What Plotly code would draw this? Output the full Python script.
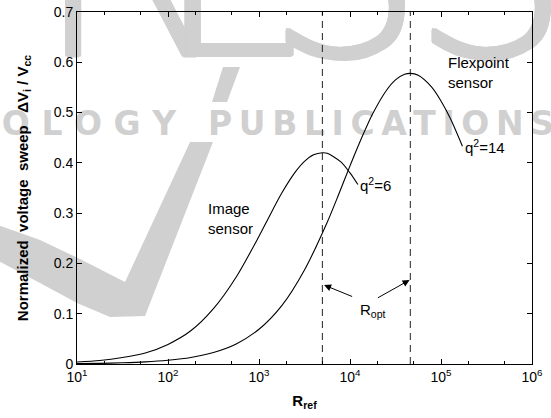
import plotly.graph_objects as go

# ---------------- data ----------------
r_image = [10, 17.8, 31.6, 56.2, 100, 178, 316, 562, 1000, 1260, 1780, 2510,
           3160, 3980, 4970, 5620, 7940, 10000, 12200]
v_image = [0.004, 0.007, 0.013, 0.022, 0.039, 0.066, 0.110, 0.173, 0.254, 0.289,
           0.340, 0.382, 0.403, 0.416, 0.420, 0.419, 0.402, 0.380, 0.357]

r_flex = [10, 17.8, 31.6, 56.2, 100, 178, 316, 562, 1000, 1780, 3160, 5620, 7500,
          10000, 12600, 17800, 25100, 31600, 39800, 46000, 56200, 79400, 100000,
          126000, 172000]
v_flex = [0.001, 0.0013, 0.0024, 0.0042, 0.0075, 0.013, 0.023, 0.040, 0.069,
          0.116, 0.187, 0.282, 0.337, 0.394, 0.438, 0.498, 0.544, 0.565, 0.576,
          0.578, 0.574, 0.550, 0.523, 0.489, 0.433]

r_opt = [4970, 46000]

x_tickvals = [1e1, 1e2, 1e3, 1e4, 1e5, 1e6]
x_ticktext = ["10<sup>1</sup>", "10<sup>2</sup>", "10<sup>3</sup>",
              "10<sup>4</sup>", "10<sup>5</sup>", "10<sup>6</sup>"]
y_tickvals = [0, 0.1, 0.2, 0.3, 0.4, 0.5, 0.6, 0.7]
y_ticktext = ["0", "0.1", "0.2", "0.3", "0.4", "0.5", "0.6", "0.7"]

# ---------------- layout geometry ----------------
W, H = 551, 418
L, R, T, B = 77, 532, 12, 364
FONT = "Liberation Sans, Arial, sans-serif"
WM = "#d0d0d0"


def px(x):
    return (x - L) / (R - L)


def py(y):
    return (B - y) / (B - T)


fig = go.Figure()

for xv in r_opt:
    fig.add_trace(go.Scatter(x=[xv, xv], y=[0, 0.7], mode="lines",
                             line=dict(color="#222222", width=1, dash="7px,5px"),
                             showlegend=False, hoverinfo="skip"))

fig.add_trace(go.Scatter(x=r_image, y=v_image, mode="lines",
                         line=dict(color="black", width=1.1, shape="spline", smoothing=0.8),
                         showlegend=False))
fig.add_trace(go.Scatter(x=r_flex, y=v_flex, mode="lines",
                         line=dict(color="black", width=1.1, shape="spline", smoothing=0.8),
                         showlegend=False))

# ---------------- watermark (below everything) ----------------
shapes = []


def poly(points):
    d = "M " + " L ".join(f"{px(a):.4f},{py(b):.4f}" for a, b in points) + " Z"
    return dict(type="path", path=d, xref="paper", yref="paper",
                fillcolor=WM, line=dict(width=0), layer="below")


shapes.append(poly([(-5, 224), (40, 240), (80, 259), (125, 282), (190, 142),
                    (213, 142), (145, 316), (110, 317), (77, 303), (40, 283), (-5, 259)]))
shapes.append(poly([(212, 102), (227, 102), (240, 67), (223, 67)]))

THICK = ", ".join(f"{dx}px {dy}px 0 {WM}" for dx, dy in
                  [(2, 0), (-2, 0), (0, 2), (0, -2), (1.5, 1.5), (-1.5, 1.5),
                   (1.5, -1.5), (-1.5, -1.5)])


def label_box(cx, cy, text, size, weight, shadow="none", w=600, h=400):
    return dict(type="rect", xref="paper", yref="paper",
                x0=px(cx - w / 2), x1=px(cx + w / 2),
                y0=py(cy + h / 2), y1=py(cy - h / 2),
                line=dict(width=0), fillcolor="rgba(0,0,0,0)", layer="below",
                label=dict(text=text, textposition="middle center",
                           font=dict(size=size, family="DejaVu Sans", weight=weight,
                                     color=WM, shadow=shadow)))


for ch, cx in zip("PRESS", [18, 123, 235, 344, 490]):
    shapes.append(label_box(cx, -50, ch, 250, 200, shadow=THICK))

shapes.append(label_box(89, 121, "\u2005\u200a".join("OLOGY"), 33, "bold"))
shapes.append(label_box(381, 121, "\u2009".join("PUBLICATIONS"), 33, "bold"))

fig.update_layout(shapes=shapes)

# ---------------- annotations ----------------
ann = [
    dict(x=2.42, y=0.29, text="Image<br>sensor", xanchor="left", yanchor="middle", align="left"),
    dict(x=5.055, y=0.58, text="Flexpoint<br>sensor", xanchor="left", yanchor="middle", align="left"),
    dict(x=4.09, y=0.356, text="q<sup>2</sup>=6", xanchor="left", yanchor="middle"),
    dict(x=5.24, y=0.432, text="q<sup>2</sup>=14", xanchor="left", yanchor="middle"),
    dict(x=4.255, y=0.107, text="R<sub>opt</sub>", xanchor="center", yanchor="middle"),
]
for a in ann:
    fig.add_annotation(showarrow=False, font=dict(family=FONT, size=15, color="black"), **a)

# arrows to the R_opt lines
fig.add_annotation(x=3.715, y=0.157, ax=4.04, ay=0.133, xref="x", yref="y",
                   axref="x", ayref="y", text="", showarrow=True,
                   arrowhead=2, arrowsize=1.4, arrowwidth=1, arrowcolor="black")
fig.add_annotation(x=4.655, y=0.167, ax=4.29, ay=0.13, xref="x", yref="y",
                   axref="x", ayref="y", text="", showarrow=True,
                   arrowhead=2, arrowsize=1.4, arrowwidth=1, arrowcolor="black")

fig.update_xaxes(type="log", range=[1, 6], tickvals=x_tickvals, ticktext=x_ticktext,
                 ticks="inside", ticklen=5, tickcolor="black", showline=True,
                 linecolor="black", linewidth=1, mirror="allticks", showgrid=False,
                 zeroline=False, automargin=False,
                 tickfont=dict(family=FONT, size=14, color="black"),
                 minor=dict(ticks="inside", ticklen=3, tickcolor="black", showgrid=False),
                 title=dict(text="<b>R<sub>ref</sub></b>", standoff=11,
                            font=dict(family=FONT, size=15, color="black")))
fig.update_yaxes(range=[0, 0.7], tickvals=y_tickvals, ticktext=y_ticktext,
                 ticks="inside", ticklen=5, tickcolor="black", showline=True,
                 linecolor="black", linewidth=1, mirror="allticks", showgrid=False,
                 zeroline=False, automargin=False,
                 tickfont=dict(family=FONT, size=14, color="black"),
                 title=dict(text="<b>Normalized\u00a0\u00a0voltage\u00a0\u00a0sweep\u00a0\u00a0\u00a0ΔV<sub>i</sub> / V<sub>cc</sub></b>",
                            standoff=21, font=dict(family=FONT, size=15, color="black")))

fig.update_layout(width=W, height=H,
                  margin=dict(l=L, r=W - R, t=T, b=H - B, pad=0),
                  paper_bgcolor="white", plot_bgcolor="rgba(0,0,0,0)",
                  showlegend=False)

fig.write_html("out.html", config={"displayModeBar": False},
               post_script="document.body.style.margin='0';document.body.style.overflow='hidden';")
